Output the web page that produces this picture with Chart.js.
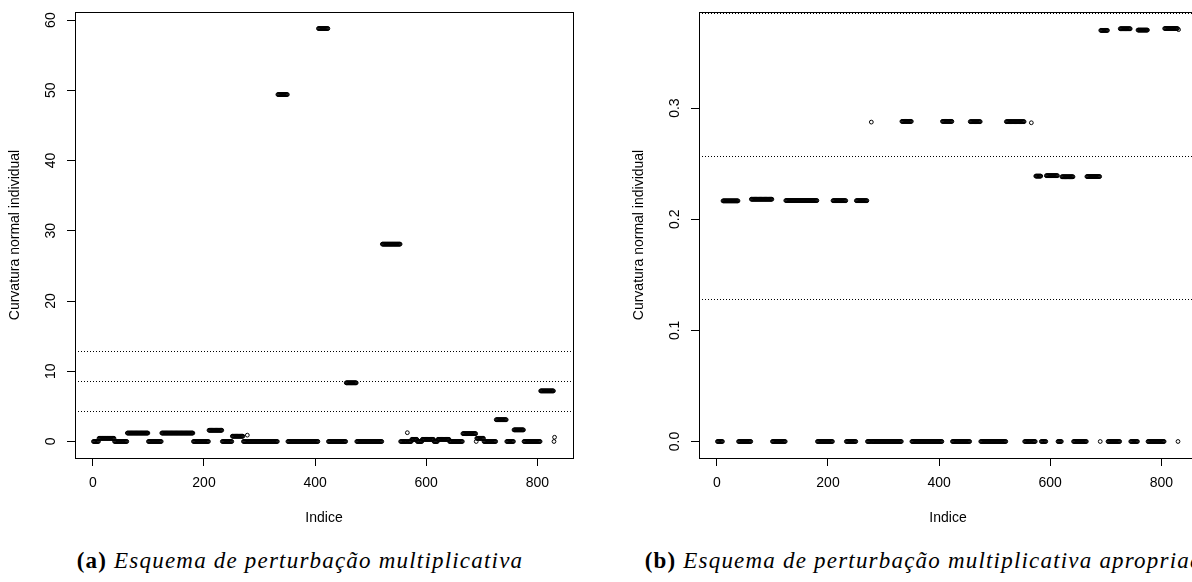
<!DOCTYPE html>
<html>
<head>
<meta charset="utf-8">
<script src="https://cdn.jsdelivr.net/npm/chart.js@4.4.1/dist/chart.umd.min.js"></script>
<style>
  html, body { margin: 0; padding: 0; background: #fff; overflow: hidden; }
  body { width: 1192px; height: 582px; position: relative; }
  canvas { position: absolute; top: 0; }
  #chartMult { left: 0; }
  #chartAprop { left: 624px; }
  .caption { position: absolute; top: 549px; line-height: 1; text-align: center; font-family: "Liberation Serif", serif; font-size: 23px; letter-spacing: 1.2px; color: #000; white-space: nowrap; }
  .caption b { font-weight: bold; font-style: normal; }
  .caption i { font-style: italic; }
  #capA { left: 0; width: 600px; }
  #capB { left: 620px; width: 620px; }
</style>
</head>
<body>
<canvas id="chartMult" width="600" height="540"></canvas>
<canvas id="chartAprop" width="600" height="540"></canvas>
<div class="caption" id="capA"><b>(a)</b> <i>Esquema de perturbação multiplicativa</i></div>
<div class="caption" id="capB"><b>(b)</b> <i>Esquema de perturbação multiplicativa apropriada</i></div>

<script>
const N_OBS = 831;

// observations come in blocks of consecutive indices sharing the same curvature
const blockStart = [1, 11, 39, 62, 100, 124, 181, 209, 233, 251, 271, 278, 279, 333, 351, 406, 424, 456, 475, 521,
                    554, 566, 567, 574, 584, 593, 614, 621, 642, 666, 690, 691, 704, 726, 745, 758, 776, 806, 830, 831];

// Ci per block, multiplicative scheme
const curvMult = [0, 0.45, 0, 1.2, 0, 1.2, 0, 1.6, 0, 0.75, 0, 0.9, 0, 49.4, 0, 58.8, 0, 8.35, 0, 28.1,
                  0, 1.25, 0, 0.3, 0, 0.3, 0, 0.3, 0, 1.12, 0, 0.45, 0, 3.1, 0, 1.65, 0, 7.2, 0, 0.6];

// Ci per block, appropriate multiplicative scheme
const curvAprop = [0, 0.2165, 0, 0.218, 0, 0.2168, 0, 0.2167, 0, 0.2167, 0, 0.2874, 0, 0.288, 0, 0.288, 0, 0.2878, 0, 0.2878,
                   0, 0.2868, 0, 0.2388, 0, 0.2392, 0, 0.2382, 0, 0.2384, 0, 0.3699, 0, 0.3714, 0, 0.3702, 0, 0.3716, 0, 0.3706];

// reference cut-offs (dotted lines)
const cutMult = [4.31, 8.62, 12.93];
const cutAprop = [0.1284, 0.2568, 0.3852];

const FONT = { family: "Liberation Sans", size: 14 };

function expandBlocks(values) {
  const pts = [];
  for (let b = 0; b < blockStart.length; b++) {
    const end = b + 1 < blockStart.length ? blockStart[b + 1] - 1 : N_OBS;
    for (let i = blockStart[b]; i <= end; i++) pts.push({ x: i, y: values[b] });
  }
  return pts;
}

// box, dotted cut-off lines and vertical y tick labels (R style)
const rFrame = {
  id: "rFrame",
  afterDraw(chart, args, opts) {
    const { ctx, chartArea: a, scales: { y } } = chart;
    ctx.save();
    ctx.strokeStyle = "#000";
    ctx.lineWidth = 1;
    ctx.setLineDash([1, 2]);
    opts.cuts.forEach(c => {
      const py = Math.round(y.getPixelForValue(c)) + 0.5;
      ctx.beginPath();
      ctx.moveTo(a.left, py);
      ctx.lineTo(a.right, py);
      ctx.stroke();
    });
    ctx.setLineDash([]);
    ctx.strokeRect(Math.round(a.left) + 0.5, Math.round(a.top) + 0.5, Math.round(a.right - a.left), Math.round(a.bottom - a.top));

    ctx.fillStyle = "#000";
    ctx.font = FONT.size + "px " + FONT.family;
    ctx.textAlign = "center";
    ctx.textBaseline = "alphabetic";
    y.ticks.forEach(t => {
      ctx.save();
      ctx.translate(a.left - 20, y.getPixelForValue(t.value));
      ctx.rotate(-Math.PI / 2);
      ctx.fillText(t.label, 0, 0);
      ctx.restore();
    });
    ctx.restore();
  }
};

function makeChart(id, values, cuts, yStep, fmt) {
  const yMin = Math.min(...values), yMax = Math.max(...values);
  const yPad = 0.04 * (yMax - yMin);
  const xPad = 0.04 * (N_OBS - 1);
  const axisLine = { display: true, drawOnChartArea: false, drawTicks: true, tickLength: 8, color: "#000" };

  return new Chart(document.getElementById(id), {
    type: "scatter",
    data: {
      datasets: [{
        data: expandBlocks(values),
        pointRadius: 1.9,
        pointBorderWidth: 1,
        pointBorderColor: "#000",
        pointBackgroundColor: "rgba(0,0,0,0)"
      }]
    },
    options: {
      responsive: false,
      animation: false,
      events: [],
      layout: { padding: { top: 12, right: 27, left: 0, bottom: 0 } },
      plugins: { legend: { display: false }, tooltip: { enabled: false }, rFrame: { cuts } },
      scales: {
        x: {
          type: "linear",
          min: 1 - xPad,
          max: N_OBS + xPad,
          afterFit: s => { s.height = 82; },
          ticks: { stepSize: 200, includeBounds: false, maxRotation: 0, color: "#000", font: FONT, padding: 9 },
          grid: axisLine,
          border: { display: true, color: "#000" },
          title: { display: true, text: "Indice", color: "#000", font: FONT, padding: { top: 0, bottom: 13 } }
        },
        y: {
          type: "linear",
          min: yMin - yPad,
          max: yMax + yPad,
          afterFit: s => { s.width = 75; },
          ticks: { display: false, stepSize: yStep, includeBounds: false, callback: fmt },
          grid: axisLine,
          border: { display: true, color: "#000" },
          title: { display: true, text: "Curvatura normal individual", color: "#000", font: FONT, padding: { top: 7, bottom: 0 } }
        }
      }
    },
    plugins: [rFrame]
  });
}

makeChart("chartMult", curvMult, cutMult, 10, v => String(Math.round(v)));
makeChart("chartAprop", curvAprop, cutAprop, 0.1, v => v.toFixed(1));
</script>
</body>
</html>
